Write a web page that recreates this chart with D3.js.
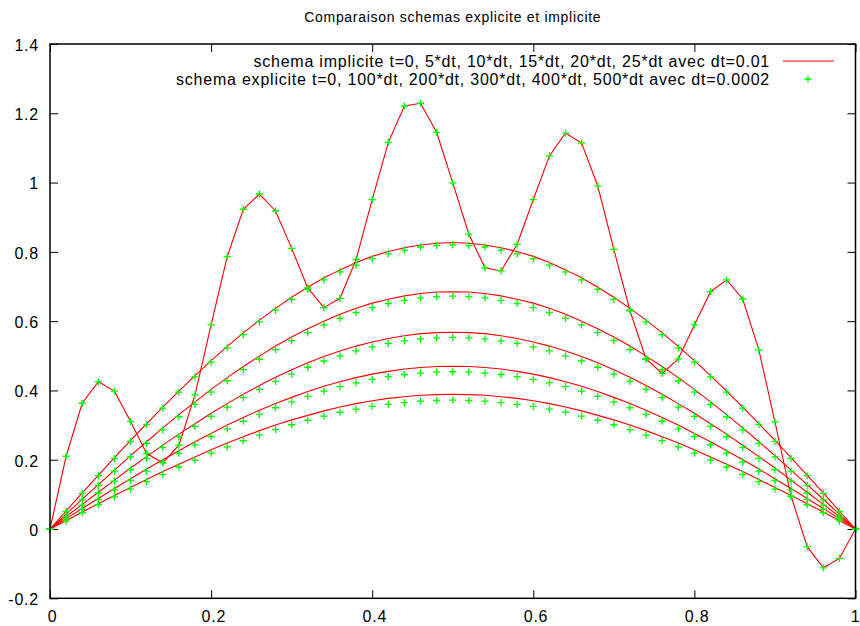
<!DOCTYPE html>
<html>
<head>
<meta charset="utf-8">
<script src="https://cdn.jsdelivr.net/npm/d3@7"></script>
<style>
  html, body { margin: 0; padding: 0; background: #fff; }
  svg { display: block; font-family: "Liberation Sans", Arial, Helvetica, sans-serif; }
</style>
</head>
<body>
<svg id="chart" width="860" height="626"></svg>
<script>
// Grid points of the space discretisation (dx = 0.02)
const xValues = [0, 0.02, 0.04, 0.06, 0.08, 0.1, 0.12, 0.14, 0.16, 0.18, 0.2, 0.22, 0.24, 0.26, 0.28, 0.3,
  0.32, 0.34, 0.36, 0.38, 0.4, 0.42, 0.44, 0.46, 0.48, 0.5, 0.52, 0.54, 0.56, 0.58, 0.6, 0.62, 0.64, 0.66,
  0.68, 0.7, 0.72, 0.74, 0.76, 0.78, 0.8, 0.82, 0.84, 0.86, 0.88, 0.9, 0.92, 0.94, 0.96, 0.98, 1];

// Initial condition (t = 0), shared by both schemes
const initialProfile = [0, 0.210, 0.363, 0.425, 0.398, 0.310, 0.218, 0.191, 0.242, 0.387, 0.589, 0.786,
  0.923, 0.967, 0.918, 0.810, 0.696, 0.639, 0.666, 0.778, 0.951, 1.116, 1.221, 1.229, 1.145, 0.999, 0.851,
  0.754, 0.745, 0.822, 0.951, 1.077, 1.143, 1.114, 0.990, 0.807, 0.630, 0.491, 0.449, 0.491, 0.589, 0.685,
  0.719, 0.664, 0.517, 0.309, 0.095, -0.051, -0.112, -0.085, 0];

// Implicit scheme, dt = 0.01
const implicit5 = [0, 0.052, 0.104, 0.155, 0.206, 0.256, 0.304, 0.352, 0.398, 0.443, 0.486, 0.527, 0.566,
  0.603, 0.637, 0.669, 0.698, 0.725, 0.748, 0.769, 0.787, 0.801, 0.812, 0.820, 0.825, 0.827, 0.825, 0.820,
  0.812, 0.801, 0.787, 0.769, 0.748, 0.725, 0.698, 0.669, 0.637, 0.603, 0.566, 0.527, 0.486, 0.443, 0.398,
  0.352, 0.304, 0.256, 0.206, 0.155, 0.104, 0.052, 0];
const implicit10 = [0, 0.043, 0.086, 0.128, 0.170, 0.212, 0.252, 0.292, 0.330, 0.367, 0.403, 0.437, 0.469,
  0.499, 0.528, 0.554, 0.578, 0.600, 0.620, 0.637, 0.652, 0.663, 0.673, 0.680, 0.684, 0.685, 0.684, 0.680,
  0.673, 0.663, 0.652, 0.637, 0.620, 0.600, 0.578, 0.554, 0.528, 0.499, 0.469, 0.437, 0.403, 0.367, 0.330,
  0.292, 0.252, 0.212, 0.170, 0.128, 0.086, 0.043, 0];
const implicit15 = [0, 0.036, 0.071, 0.106, 0.141, 0.176, 0.209, 0.242, 0.274, 0.304, 0.334, 0.362, 0.389,
  0.414, 0.438, 0.460, 0.480, 0.498, 0.514, 0.528, 0.540, 0.550, 0.558, 0.564, 0.567, 0.568, 0.567, 0.564,
  0.558, 0.550, 0.540, 0.528, 0.514, 0.498, 0.480, 0.460, 0.438, 0.414, 0.389, 0.362, 0.334, 0.304, 0.274,
  0.242, 0.209, 0.176, 0.141, 0.106, 0.071, 0.036, 0];
const implicit20 = [0, 0.030, 0.059, 0.088, 0.117, 0.145, 0.173, 0.200, 0.226, 0.252, 0.276, 0.300, 0.322,
  0.343, 0.362, 0.380, 0.397, 0.412, 0.425, 0.437, 0.447, 0.455, 0.462, 0.466, 0.469, 0.470, 0.469, 0.466,
  0.462, 0.455, 0.447, 0.437, 0.425, 0.412, 0.397, 0.380, 0.362, 0.343, 0.322, 0.300, 0.276, 0.252, 0.226,
  0.200, 0.173, 0.145, 0.117, 0.088, 0.059, 0.030, 0];
const implicit25 = [0, 0.024, 0.049, 0.073, 0.097, 0.120, 0.143, 0.166, 0.187, 0.208, 0.229, 0.248, 0.266,
  0.284, 0.300, 0.315, 0.328, 0.341, 0.352, 0.362, 0.370, 0.377, 0.382, 0.386, 0.388, 0.389, 0.388, 0.386,
  0.382, 0.377, 0.370, 0.362, 0.352, 0.341, 0.328, 0.315, 0.300, 0.284, 0.266, 0.248, 0.229, 0.208, 0.187,
  0.166, 0.143, 0.120, 0.097, 0.073, 0.049, 0.024, 0];

// Explicit scheme, dt = 0.0002
const explicit100 = [0, 0.051, 0.103, 0.154, 0.204, 0.253, 0.302, 0.349, 0.395, 0.439, 0.482, 0.523, 0.561,
  0.598, 0.632, 0.663, 0.692, 0.719, 0.742, 0.762, 0.780, 0.794, 0.805, 0.814, 0.818, 0.820, 0.818, 0.814,
  0.805, 0.794, 0.780, 0.762, 0.742, 0.719, 0.692, 0.663, 0.632, 0.598, 0.561, 0.523, 0.482, 0.439, 0.395,
  0.349, 0.302, 0.253, 0.204, 0.154, 0.103, 0.051, 0];
const explicit200 = [0, 0.042, 0.084, 0.126, 0.167, 0.208, 0.247, 0.286, 0.324, 0.360, 0.395, 0.428, 0.460,
  0.490, 0.518, 0.544, 0.567, 0.589, 0.608, 0.625, 0.639, 0.651, 0.660, 0.667, 0.671, 0.672, 0.671, 0.667,
  0.660, 0.651, 0.639, 0.625, 0.608, 0.589, 0.567, 0.544, 0.518, 0.490, 0.460, 0.428, 0.395, 0.360, 0.324,
  0.286, 0.247, 0.208, 0.167, 0.126, 0.084, 0.042, 0];
const explicit300 = [0, 0.035, 0.069, 0.104, 0.138, 0.171, 0.204, 0.235, 0.266, 0.296, 0.325, 0.352, 0.379,
  0.403, 0.426, 0.447, 0.467, 0.485, 0.500, 0.514, 0.526, 0.536, 0.543, 0.549, 0.552, 0.553, 0.552, 0.549,
  0.543, 0.536, 0.526, 0.514, 0.500, 0.485, 0.467, 0.447, 0.426, 0.403, 0.379, 0.352, 0.325, 0.296, 0.266,
  0.235, 0.204, 0.171, 0.138, 0.104, 0.069, 0.035, 0];
const explicit400 = [0, 0.029, 0.057, 0.085, 0.113, 0.140, 0.167, 0.193, 0.219, 0.243, 0.267, 0.289, 0.311,
  0.331, 0.350, 0.367, 0.383, 0.398, 0.411, 0.422, 0.432, 0.440, 0.446, 0.450, 0.453, 0.454, 0.453, 0.450,
  0.446, 0.440, 0.432, 0.422, 0.411, 0.398, 0.383, 0.367, 0.350, 0.331, 0.311, 0.289, 0.267, 0.243, 0.219,
  0.193, 0.167, 0.140, 0.113, 0.085, 0.057, 0.029, 0];
const explicit500 = [0, 0.023, 0.047, 0.070, 0.093, 0.115, 0.137, 0.158, 0.179, 0.199, 0.219, 0.237, 0.255,
  0.271, 0.287, 0.301, 0.314, 0.326, 0.337, 0.346, 0.354, 0.360, 0.365, 0.369, 0.371, 0.372, 0.371, 0.369,
  0.365, 0.360, 0.354, 0.346, 0.337, 0.326, 0.314, 0.301, 0.287, 0.271, 0.255, 0.237, 0.219, 0.199, 0.179,
  0.158, 0.137, 0.115, 0.093, 0.070, 0.047, 0.023, 0];

const xTicks = [0, 0.2, 0.4, 0.6, 0.8, 1];
const xTickLabels = ["0", "0.2", "0.4", "0.6", "0.8", "1"];
const yTicks = [-0.2, 0, 0.2, 0.4, 0.6, 0.8, 1, 1.2, 1.4];
const yTickLabels = ["-0.2", "0", "0.2", "0.4", "0.6", "0.8", "1", "1.2", "1.4"];

const chartTitle = "Comparaison schemas explicite et implicite";
const implicitLabel = "schema implicite t=0, 5*dt, 10*dt, 15*dt, 20*dt, 25*dt avec dt=0.01";
const explicitLabel = "schema explicite t=0, 100*dt, 200*dt, 300*dt, 400*dt, 500*dt avec dt=0.0002";

const implicitSeries = [initialProfile, implicit5, implicit10, implicit15, implicit20, implicit25];
const explicitSeries = [initialProfile, explicit100, explicit200, explicit300, explicit400, explicit500];

// ---- layout ----
const plot = { left: 50, right: 855.5, top: 44, bottom: 598.3 };
const lineColor = "#ff0000";
const pointColor = "#00ff00";
const textSpacing = "0.78px";
const plusPath = "M-3.6,0H3.6M0,-3.6V3.6";

const svg = d3.select("#chart");
svg.append("rect").attr("width", 860).attr("height", 626).attr("fill", "#fff");

const x = d3.scaleLinear().domain([0, 1]).range([plot.left, plot.right]);
const y = d3.scaleLinear().domain([-0.2, 1.4]).range([plot.bottom, plot.top]);

// ---- title ----
svg.append("text")
  .attr("x", (plot.left + plot.right) / 2)
  .attr("y", 22)
  .attr("text-anchor", "middle")
  .attr("font-size", 14)
  .attr("letter-spacing", "0.7px")
  .attr("fill", "#000")
  .text(chartTitle);

// ---- axes (inward ticks, mirrored on top and right) ----
function styleAxis(g) {
  g.select(".domain").remove();
  g.selectAll(".tick line").attr("stroke", "#000").attr("stroke-width", 1);
  g.selectAll(".tick text")
    .attr("fill", "#000")
    .attr("font-size", 16)
    .attr("letter-spacing", textSpacing)
    .attr("font-family", "'Liberation Sans', Arial, Helvetica, sans-serif");
}

svg.append("g")
  .attr("transform", `translate(0,${plot.bottom})`)
  .call(d3.axisBottom(x).tickValues(xTicks).tickFormat((d, i) => xTickLabels[i]).tickSize(-8).tickPadding(12))
  .call(styleAxis)
  .call(g => g.selectAll(".tick text").attr("dx", (d, i) => i === xTicks.length - 1 ? -0.5 : 2.2));

svg.append("g")
  .attr("transform", `translate(0,${plot.top})`)
  .call(d3.axisTop(x).tickValues(xTicks).tickFormat("").tickSize(-8))
  .call(styleAxis);

svg.append("g")
  .attr("transform", `translate(${plot.left},0)`)
  .call(d3.axisLeft(y).tickValues(yTicks).tickFormat((d, i) => yTickLabels[i]).tickSize(-8).tickPadding(11))
  .call(styleAxis)
  .call(g => g.selectAll(".tick text").attr("dy", "0.4em"));

svg.append("g")
  .attr("transform", `translate(${plot.right},0)`)
  .call(d3.axisRight(y).tickValues(yTicks).tickFormat("").tickSize(-8))
  .call(styleAxis);

// ---- legend ----
const legendTextRight = 770;
const legendRows = [
  { label: implicitLabel, cy: 61, kind: "line" },
  { label: explicitLabel, cy: 79, kind: "point" }
];
const legend = svg.append("g");
legendRows.forEach(row => {
  legend.append("text")
    .attr("x", legendTextRight)
    .attr("y", row.cy + 5.8)
    .attr("text-anchor", "end")
    .attr("font-size", 16)
    .attr("letter-spacing", textSpacing)
    .attr("fill", "#000")
    .text(row.label);
  if (row.kind === "line") {
    legend.append("line")
      .attr("x1", 783).attr("x2", 834)
      .attr("y1", row.cy).attr("y2", row.cy)
      .attr("stroke", lineColor).attr("stroke-width", 1.2);
  } else {
    legend.append("path")
      .attr("transform", `translate(808,${row.cy})`)
      .attr("d", plusPath)
      .attr("stroke", pointColor).attr("stroke-width", 1.3).attr("fill", "none");
  }
});

// ---- implicit scheme: lines ----
const clipId = "plot-clip";
svg.append("clipPath").attr("id", clipId)
  .append("rect")
  .attr("x", plot.left).attr("y", plot.top)
  .attr("width", plot.right - plot.left).attr("height", plot.bottom - plot.top);

const line = d3.line()
  .x((d, i) => x(xValues[i]))
  .y(d => y(d));

svg.append("g")
  .attr("clip-path", `url(#${clipId})`)
  .selectAll("path")
  .data(implicitSeries)
  .join("path")
  .attr("d", line)
  .attr("fill", "none")
  .attr("stroke", lineColor)
  .attr("stroke-width", 1.1);

// ---- explicit scheme: "+" markers ----
const markers = svg.append("g");
explicitSeries.forEach(series => {
  markers.append("g")
    .selectAll("path")
    .data(series)
    .join("path")
    .attr("transform", (d, i) => `translate(${x(xValues[i])},${y(d)})`)
    .attr("d", plusPath)
    .attr("stroke", pointColor)
    .attr("stroke-width", 1.3)
    .attr("fill", "none");
});

// ---- frame ----
svg.append("rect")
  .attr("x", plot.left).attr("y", plot.top)
  .attr("width", plot.right - plot.left).attr("height", plot.bottom - plot.top)
  .attr("fill", "none")
  .attr("stroke", "#000")
  .attr("stroke-width", 1.5);
</script>
</body>
</html>
